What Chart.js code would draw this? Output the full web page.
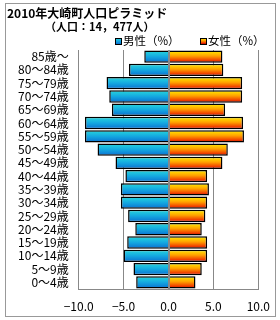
<!DOCTYPE html>
<html>
<head>
<meta charset="utf-8">
<script src="https://cdn.jsdelivr.net/npm/chart.js@4"></script>
<style>
  html, body { margin: 0; padding: 0; background: #fff; }
  canvas { display: block; }
</style>
</head>
<body>
<canvas id="chart" width="280" height="320"></canvas>
<script>
const title = '2010年大崎町人口ピラミッド';
const subtitle = '（人口：14，477人）';
const ageGroups = ['85歳～','80～84歳','75～79歳','70～74歳','65～69歳','60～64歳','55～59歳','50～54歳','45～49歳',
  '40～44歳','35～39歳','30～34歳','25～29歳','20～24歳','15～19歳','10～14歳','5～9歳','0～4歳'];
const maleLabel = '男性（%）';
const femaleLabel = '女性（%）';
// male shares drawn to the left (negative)
const male = [-2.7,-4.4,-6.9,-6.6,-6.3,-9.3,-9.3,-7.9,-5.9,-4.8,-5.3,-5.3,-4.5,-3.7,-4.6,-5.0,-3.9,-3.6];
const female = [6.0,6.1,8.2,8.2,6.3,8.3,8.4,6.6,6.0,4.3,4.5,4.3,4.1,3.7,4.3,4.3,3.7,3.0];
const xTicks = [-10,-5,0,5,10];

const FONT = '"Noto Sans CJK JP", "Noto Sans", sans-serif';
const BAR_PCT = 0.93;

function barGradient(ctx, stops){
  const chart = ctx.chart, y = chart.scales.y;
  if (!y || !chart.chartArea) return stops[0][1];
  const c = y.getPixelForValue(ctx.dataIndex);
  const h = (chart.chartArea.bottom - chart.chartArea.top) / ageGroups.length * BAR_PCT;
  const g = chart.ctx.createLinearGradient(0, c - h/2, 0, c + h/2);
  stops.forEach(s => g.addColorStop(s[0], s[1]));
  return g;
}
const maleStops = [[0,'#28d8dc'],[0.5,'#14a8e0'],[1,'#0a6ed0']];
const femaleStops = [[0,'#fff000'],[0.45,'#ffa000'],[0.8,'#f04000'],[1,'#c00000']];

const decor = {
  id: 'decor',
  beforeDraw(chart){
    const c = chart.ctx;
    c.save();
    c.strokeStyle = '#999'; c.lineWidth = 1;
    c.strokeRect(5.5, 3.5, 270, 313);
    c.restore();
  },
  afterDatasetsDraw(chart){
    const c = chart.ctx, a = chart.chartArea, x0 = Math.round(chart.scales.x.getPixelForValue(0)) + 0.5;
    c.save();
    c.strokeStyle = '#888'; c.lineWidth = 1;
    c.beginPath(); c.moveTo(x0, a.top); c.lineTo(x0, a.bottom); c.stroke();
    c.restore();
  },
  afterDraw(chart){
    const c = chart.ctx;
    c.save();
    c.fillStyle = '#000';
    c.textBaseline = 'middle';
    c.font = 'bold 12px ' + FONT;
    c.fillText(title, 7, 13);
    c.font = 'bold 11px ' + FONT;
    c.fillText(subtitle, 45, 27);
    c.font = '11.5px ' + FONT;
    const items = [[115, maleLabel, maleStops], [200, femaleLabel, femaleStops]];
    items.forEach(([x, label, stops]) => {
      const g = c.createLinearGradient(0, 38, 0, 44);
      stops.forEach(s => g.addColorStop(s[0], s[1]));
      c.fillStyle = g; c.fillRect(x, 38, 6, 6);
      c.strokeStyle = '#000'; c.lineWidth = 1; c.strokeRect(x + 0.5, 38.5, 6, 6);
      c.fillStyle = '#000'; c.fillText(label, x + 8, 41);
    });
    c.restore();
  }
};

new Chart(document.getElementById('chart').getContext('2d'), {
  type: 'bar',
  data: {
    labels: ageGroups,
    datasets: [
      { label: maleLabel, data: male, backgroundColor: ctx => barGradient(ctx, maleStops) },
      { label: femaleLabel, data: female, backgroundColor: ctx => barGradient(ctx, femaleStops) }
    ]
  },
  options: {
    indexAxis: 'y',
    responsive: false,
    animation: false,
    events: [],
    layout: { padding: { left: 6, right: 21, top: 50, bottom: 5 } },
    datasets: { bar: { barPercentage: BAR_PCT, categoryPercentage: 1, borderColor: '#000', borderWidth: 1.5, borderSkipped: 'start' } },
    plugins: { legend: { display: false }, title: { display: false }, tooltip: { enabled: false } },
    scales: {
      x: {
        stacked: true, min: -10, max: 10,
        afterBuildTicks: s => { s.ticks = xTicks.map(v => ({ value: v })); },
        afterFit: s => { s.height = 26; },
        grid: { color: '#888', drawTicks: false },
        border: { color: '#888' },
        ticks: { padding: 10, color: '#000', font: { family: FONT, size: 12 },
          callback: v => (v < 0 ? '−' : '') + Math.abs(v).toFixed(1) }
      },
      y: {
        stacked: true,
        afterFit: s => { s.width = 72.7; },
        grid: { display: false, drawTicks: false },
        border: { color: '#888' },
        ticks: { autoSkip: false, padding: 10, color: '#000', font: { family: FONT, size: 12 } }
      }
    }
  },
  plugins: [decor]
});
</script>
</body>
</html>
